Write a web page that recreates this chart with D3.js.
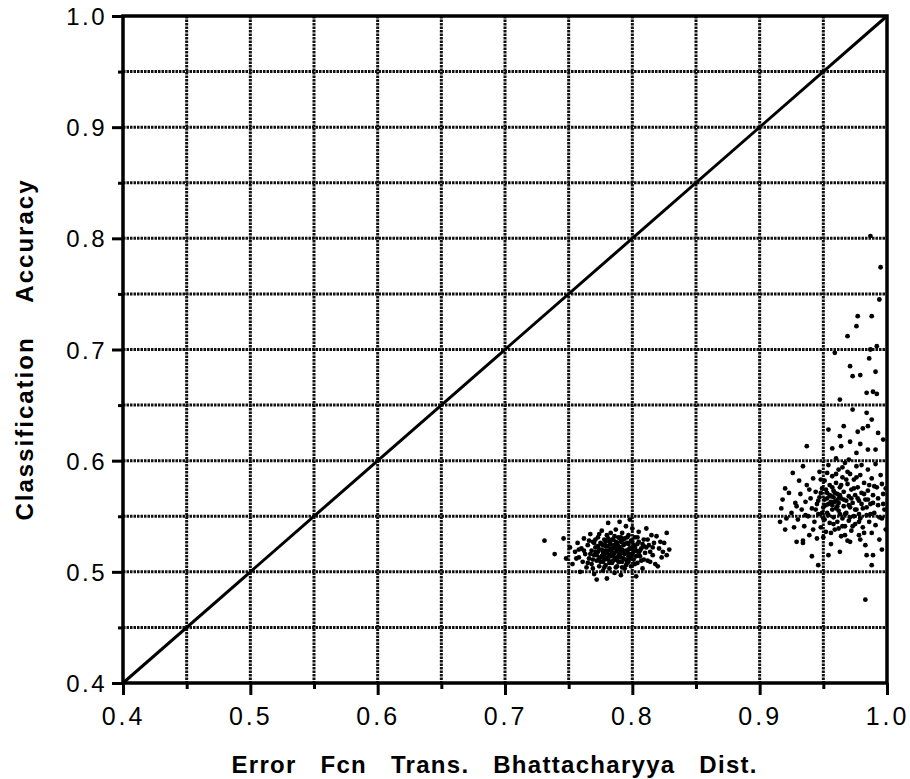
<!DOCTYPE html>
<html>
<head>
<meta charset="utf-8">
<script src="https://cdn.jsdelivr.net/npm/d3@7"></script>
<style>
    body { margin: 0; background: #fff; }
    text { font-family: "Liberation Sans", Arial, sans-serif; fill: #000; }
</style>
</head>
<body>
<div id="chart"></div>
<script>
// axis ticks
const xTicks = [0.4, 0.5, 0.6, 0.7, 0.8, 0.9, 1.0];
const yTicks = [0.4, 0.5, 0.6, 0.7, 0.8, 0.9, 1.0];
const gridValues = [0.45, 0.5, 0.55, 0.6, 0.65, 0.7, 0.75, 0.8, 0.85, 0.9, 0.95];
const xTitle = "Error   Fcn   Trans.   Bhattacharyya   Dist.";
const yTitle = "Classification    Accuracy";

// reference line y = x
const diagonal = [[0.4, 0.4], [1.0, 1.0]];

// cluster near 0.78
const lowerCluster = [
    [0.731,0.528],[0.739,0.516],[0.746,0.530],[0.748,0.512],[0.751,0.522],[0.753,0.507],[0.755,0.518],[0.757,0.526],
    [0.758,0.513],[0.759,0.500],[0.760,0.521],[0.761,0.509],[0.762,0.530],[0.763,0.516],[0.764,0.504],[0.765,0.524],
    [0.766,0.512],[0.767,0.534],[0.768,0.519],[0.768,0.507],[0.769,0.527],[0.770,0.498],[0.770,0.515],[0.771,0.522],
    [0.772,0.493],[0.772,0.510],[0.773,0.531],[0.773,0.518],[0.774,0.505],[0.775,0.526],[0.775,0.513],[0.776,0.537],
    [0.776,0.520],[0.777,0.501],[0.777,0.509],[0.778,0.529],[0.778,0.516],[0.779,0.523],[0.779,0.506],[0.780,0.494],
    [0.780,0.533],[0.780,0.512],[0.781,0.544],[0.781,0.519],[0.782,0.527],[0.782,0.503],[0.783,0.514],[0.783,0.535],
    [0.784,0.521],[0.784,0.508],[0.785,0.529],[0.785,0.516],[0.786,0.499],[0.786,0.524],[0.787,0.511],[0.787,0.538],
    [0.788,0.519],[0.788,0.505],[0.789,0.531],[0.789,0.514],[0.790,0.545],[0.790,0.522],[0.790,0.509],[0.791,0.527],
    [0.791,0.497],[0.792,0.517],[0.792,0.535],[0.793,0.512],[0.793,0.524],[0.794,0.503],[0.794,0.530],[0.795,0.519],
    [0.795,0.541],[0.796,0.508],[0.796,0.526],[0.797,0.514],[0.797,0.533],[0.798,0.547],[0.798,0.521],[0.799,0.505],
    [0.799,0.528],[0.800,0.539],[0.800,0.516],[0.801,0.511],[0.801,0.524],[0.802,0.531],[0.803,0.496],[0.803,0.519],
    [0.804,0.508],[0.805,0.527],[0.805,0.536],[0.806,0.514],[0.807,0.521],[0.808,0.503],[0.809,0.529],[0.810,0.517],
    [0.811,0.539],[0.812,0.510],[0.813,0.524],[0.815,0.533],[0.816,0.515],[0.818,0.507],[0.819,0.532],[0.820,0.505],
    [0.821,0.521],[0.823,0.513],[0.825,0.526],[0.827,0.535],[0.827,0.515],[0.829,0.520],
    [0.776,0.514],[0.781,0.511],[0.784,0.517],[0.787,0.522],[0.791,0.513],[0.794,0.516],[0.797,0.520],[0.783,0.525],
    [0.789,0.518],[0.779,0.519],[0.786,0.513],[0.792,0.520],[0.774,0.520],[0.798,0.512],[0.802,0.522],
    [0.767,0.516],[0.769,0.511],[0.771,0.518],[0.773,0.523],[0.774,0.512],[0.776,0.525],[0.777,0.517],[0.778,0.511],
    [0.779,0.527],[0.780,0.517],[0.781,0.523],[0.782,0.515],[0.783,0.509],[0.784,0.529],[0.785,0.521],[0.786,0.517],
    [0.787,0.527],[0.788,0.512],[0.789,0.523],[0.790,0.515],[0.791,0.531],[0.792,0.509],[0.793,0.518],[0.794,0.525],
    [0.795,0.511],[0.796,0.518],[0.797,0.525],[0.798,0.516],[0.799,0.521],[0.800,0.527],[0.801,0.518],[0.803,0.514],
    [0.804,0.525],[0.806,0.519],[0.808,0.525],[0.809,0.511],[0.811,0.522],[0.814,0.518],[0.817,0.526],[0.770,0.526],
    [0.762,0.519],[0.765,0.508],[0.766,0.528],[0.769,0.503],[0.771,0.529],[0.772,0.515],[0.774,0.534],[0.775,0.509],
    [0.777,0.524],[0.778,0.504],[0.779,0.513],[0.781,0.530],[0.782,0.508],[0.783,0.520],[0.785,0.510],[0.786,0.532],
    [0.787,0.504],[0.788,0.526],[0.789,0.509],[0.790,0.530],[0.791,0.520],[0.792,0.504],[0.793,0.529],[0.795,0.506],
    [0.796,0.531],[0.797,0.509],[0.799,0.514],[0.800,0.522],[0.802,0.507],[0.804,0.531],[0.805,0.517],[0.807,0.510],
    [0.809,0.523],[0.812,0.529],[0.814,0.509],[0.816,0.522],[0.822,0.527],[0.824,0.518],[0.758,0.520],[0.756,0.512]
];

// cluster near 0.96, with a tail going up along the right edge
const upperCluster = [
    [0.987,0.802],[0.995,0.774],[0.994,0.745],[0.977,0.730],[0.988,0.730],[0.976,0.721],[0.969,0.712],[0.992,0.703],
    [0.987,0.700],[0.959,0.697],[0.986,0.692],[0.971,0.685],[0.991,0.680],[0.979,0.677],[0.973,0.676],[0.984,0.661],
    [0.989,0.662],[0.992,0.660],[0.963,0.655],[0.973,0.646],[0.984,0.643],[0.988,0.637],[0.954,0.628],[0.966,0.631],
    [0.977,0.626],[0.981,0.629],[0.985,0.631],[0.993,0.625],[0.963,0.622],[0.997,0.619],[0.937,0.613],[0.957,0.611],
    [0.964,0.613],[0.971,0.617],[0.979,0.615],[0.985,0.610],[0.991,0.610],[0.976,0.607],[0.960,0.602],[0.970,0.601],
    [0.934,0.595],[0.926,0.589],[0.920,0.575],[0.917,0.557],[0.916,0.545],[0.920,0.538],[0.929,0.527],[0.934,0.526],
    [0.941,0.514],[0.946,0.506],[0.954,0.515],[0.963,0.518],[0.971,0.527],[0.979,0.529],[0.984,0.515],[0.989,0.515],
    [0.988,0.506],[0.996,0.520],[0.983,0.475],
    [0.925,0.553],[0.928,0.562],[0.930,0.547],[0.932,0.570],[0.933,0.556],[0.935,0.541],[0.936,0.563],[0.937,0.578],
    [0.938,0.550],[0.939,0.533],[0.940,0.566],[0.941,0.557],[0.942,0.584],[0.943,0.545],[0.944,0.572],[0.945,0.561],
    [0.945,0.530],[0.946,0.552],[0.947,0.590],[0.947,0.567],[0.948,0.540],[0.949,0.575],[0.950,0.558],[0.950,0.548],
    [0.951,0.582],[0.951,0.565],[0.952,0.536],[0.953,0.571],[0.953,0.553],[0.954,0.596],[0.954,0.561],[0.955,0.544],
    [0.955,0.578],[0.956,0.568],[0.956,0.525],[0.957,0.556],[0.957,0.586],[0.958,0.549],[0.958,0.573],[0.959,0.563],
    [0.959,0.538],[0.960,0.580],[0.960,0.557],[0.961,0.570],[0.961,0.545],[0.962,0.592],[0.962,0.562],[0.963,0.552],
    [0.963,0.576],[0.964,0.532],[0.964,0.566],[0.965,0.585],[0.965,0.548],[0.966,0.559],[0.966,0.572],[0.967,0.541],
    [0.967,0.598],[0.968,0.564],[0.968,0.553],[0.969,0.579],[0.969,0.528],[0.970,0.568],[0.970,0.546],[0.971,0.588],
    [0.971,0.558],[0.972,0.574],[0.972,0.537],[0.973,0.562],[0.974,0.550],[0.974,0.583],[0.975,0.569],[0.975,0.543],
    [0.976,0.595],[0.976,0.556],[0.977,0.576],[0.978,0.533],[0.978,0.564],[0.979,0.548],[0.979,0.587],[0.980,0.571],
    [0.981,0.557],[0.981,0.540],[0.982,0.580],[0.983,0.565],[0.983,0.524],[0.984,0.551],[0.985,0.592],[0.985,0.573],
    [0.986,0.545],[0.987,0.561],[0.988,0.584],[0.988,0.535],[0.989,0.569],[0.990,0.553],[0.991,0.597],[0.991,0.542],
    [0.992,0.576],[0.993,0.560],[0.994,0.529],[0.995,0.587],[0.996,0.548],[0.997,0.570],[0.998,0.556],[0.999,0.538],
    [0.918,0.565],[0.921,0.548],[0.923,0.571],[0.927,0.540],[0.931,0.582],[0.934,0.528],
    [0.952,0.560],[0.956,0.563],[0.958,0.567],[0.961,0.559],[0.953,0.566],[0.959,0.571],[0.962,0.566],[0.957,0.560],
    [0.944,0.556],[0.946,0.564],[0.948,0.571],[0.949,0.553],[0.951,0.547],[0.952,0.574],[0.954,0.551],[0.955,0.569],
    [0.957,0.576],[0.958,0.543],[0.960,0.564],[0.962,0.555],[0.963,0.569],[0.964,0.578],[0.965,0.541],[0.966,0.565],
    [0.967,0.552],[0.968,0.583],[0.970,0.560],[0.971,0.549],[0.972,0.566],[0.974,0.575],[0.975,0.556],[0.977,0.566],
    [0.978,0.552],[0.980,0.561],[0.982,0.570],[0.984,0.558],[0.986,0.578],[0.989,0.562],[0.993,0.566],[0.996,0.579],
    [0.929,0.559],[0.936,0.551],[0.939,0.574],[0.942,0.538],[0.948,0.583],[0.950,0.531],[0.953,0.589],[0.956,0.535],
    [0.960,0.588],[0.962,0.539],[0.965,0.594],[0.967,0.533],[0.969,0.590],[0.973,0.541],[0.976,0.585],[0.978,0.545],
    [0.980,0.596],[0.982,0.535],[0.985,0.565],[0.987,0.552],[0.990,0.577],[0.994,0.549],[0.997,0.561],[0.999,0.575]
];

const width = 910, height = 779;
const margin = { left: 123, right: 23, top: 16, bottom: 96 };

const svg = d3.select("#chart").append("svg")
    .attr("width", width)
    .attr("height", height)
    .attr("viewBox", [0, 0, width, height]);

const x = d3.scaleLinear().domain([0.4, 1.0]).range([margin.left, width - margin.right]);
const y = d3.scaleLinear().domain([0.4, 1.0]).range([height - margin.bottom, margin.top]);

// dotted grid
const grid = svg.append("g")
    .attr("stroke", "#111")
    .attr("stroke-width", 3)
    .attr("stroke-dasharray", "2.5,1");
grid.selectAll("line.v")
    .data(gridValues)
    .join("line")
    .attr("class", "v")
    .attr("x1", d => x(d)).attr("x2", d => x(d))
    .attr("y1", y(1.0)).attr("y2", y(0.4));
grid.selectAll("line.h")
    .data(gridValues)
    .join("line")
    .attr("class", "h")
    .attr("y1", d => y(d)).attr("y2", d => y(d))
    .attr("x1", x(0.4)).attr("x2", x(1.0));

// axes: major ticks with labels, short minor ticks
const minor = gridValues.filter(v => Math.round(v * 100) % 10 !== 0);
const xAxis = svg.append("g")
    .attr("transform", `translate(0,${y(0.4)})`)
    .call(d3.axisBottom(x).tickValues(xTicks).tickSize(12).tickFormat(d3.format(".1f")));
svg.append("g")
    .attr("transform", `translate(0,${y(0.4)})`)
    .call(d3.axisBottom(x).tickValues(minor).tickSize(6).tickFormat(""));
const yAxis = svg.append("g")
    .attr("transform", `translate(${x(0.4)},0)`)
    .call(d3.axisLeft(y).tickValues(yTicks).tickSize(11).tickFormat(d3.format(".1f")));
svg.append("g")
    .attr("transform", `translate(${x(0.4)},0)`)
    .call(d3.axisLeft(y).tickValues(minor).tickSize(5).tickFormat(""));

svg.selectAll(".domain").remove();
svg.selectAll(".tick line").attr("stroke", "#000").attr("stroke-width", 3);

xAxis.selectAll(".tick text")
    .attr("y", 24)
    .attr("dy", "0.71em")
    .style("font-size", "25px")
    .style("letter-spacing", "3px");
yAxis.selectAll(".tick text")
    .attr("x", -16)
    .attr("dy", "0.36em")
    .style("font-size", "24px")
    .style("letter-spacing", "2.5px");

// frame
svg.append("rect")
    .attr("x", x(0.4)).attr("y", y(1.0))
    .attr("width", x(1.0) - x(0.4))
    .attr("height", y(0.4) - y(1.0))
    .attr("fill", "none")
    .attr("stroke", "#000")
    .attr("stroke-width", 3.5);

// diagonal
svg.append("path")
    .datum(diagonal)
    .attr("fill", "none")
    .attr("stroke", "#000")
    .attr("stroke-width", 3)
    .attr("d", d3.line().x(d => x(d[0])).y(d => y(d[1])));

// scatter points
svg.append("g")
    .attr("fill", "#000")
    .selectAll("circle")
    .data(lowerCluster.concat(upperCluster))
    .join("circle")
    .attr("cx", d => x(d[0]))
    .attr("cy", d => y(d[1]))
    .attr("r", 2.4);

// titles
svg.append("text")
    .attr("x", 494)
    .attr("y", 773)
    .attr("text-anchor", "middle")
    .attr("textLength", 525)
    .attr("lengthAdjust", "spacing")
    .style("font-size", "24px")
    .style("font-weight", "bold")
    .style("white-space", "pre")
    .text(xTitle);

svg.append("text")
    .attr("transform", `translate(33,${(y(0.4) + y(1.0)) / 2 + 1}) rotate(-90)`)
    .attr("text-anchor", "middle")
    .attr("textLength", 340)
    .attr("lengthAdjust", "spacing")
    .style("font-size", "24px")
    .style("font-weight", "bold")
    .style("white-space", "pre")
    .text(yTitle);
</script>
</body>
</html>
